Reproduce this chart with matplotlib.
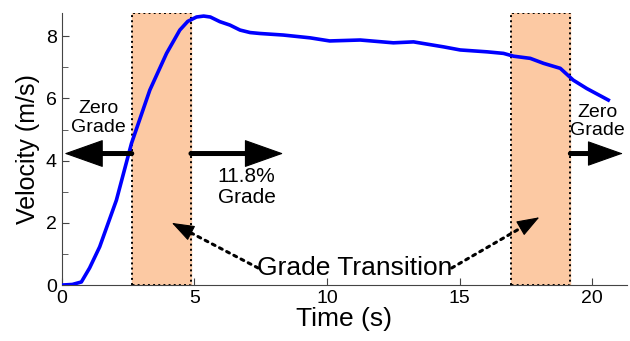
import matplotlib.pyplot as plt
import numpy as np
from matplotlib.ticker import MultipleLocator

plt.rcParams['font.family'] = ['Liberation Sans', 'DejaVu Sans']

# velocity trace
time_s = [0.0, 0.4, 0.74, 1.05, 1.43, 2.06, 2.63, 3.32, 3.95, 4.45, 4.75, 5.08, 5.35, 5.6,
          5.96, 6.34, 6.72, 7.1, 7.47, 8.35, 9.36, 10.1, 11.25, 12.5, 13.26, 14.39,
          15.02, 16.03, 16.65, 17.03, 17.66, 18.16, 18.79, 19.28, 19.79, 20.6]
velocity = [0.0, 0.02, 0.1, 0.55, 1.23, 2.73, 4.56, 6.27, 7.45, 8.2, 8.48, 8.62, 8.65, 8.62,
            8.47, 8.36, 8.2, 8.12, 8.09, 8.04, 7.95, 7.85, 7.88, 7.79, 7.82, 7.66,
            7.56, 7.5, 7.45, 7.36, 7.29, 7.13, 6.97, 6.59, 6.32, 5.95]

transitions = [(2.64, 4.87), (16.95, 19.17)]

fig = plt.figure(figsize=(6.30, 3.41), dpi=100)
ax = fig.add_axes([0.098, 0.164, 0.897, 0.798])

ymax = 8.75
for a, b in transitions:
    ax.fill_between([a, b], 0, ymax, color='#fcc9a3', zorder=1)
    ax.plot([a, a, b, b, a], [0, ymax, ymax, 0, 0], color='black', ls=':', lw=1.4, zorder=2)

ax.plot(time_s, velocity, color='#0000ff', lw=2.6, zorder=3)


def arrow(x0, y0, x1, y1, lw, ls, hl, hw, ms):
    # shaft and solid head drawn separately so the head keeps its size
    ax.annotate('', xy=(x1, y1), xytext=(x0, y0),
                arrowprops=dict(arrowstyle='-', color='black', lw=lw, ls=ls,
                                shrinkA=0, shrinkB=ms * hl * 0.6), zorder=4)
    f = 0.05
    ax.annotate('', xy=(x1, y1), xytext=(x1 - f * (x1 - x0), y1 - f * (y1 - y0)),
                arrowprops=dict(arrowstyle='-|>,head_length=%g,head_width=%g' % (hl, hw),
                                color='black', lw=0.8, mutation_scale=ms,
                                shrinkA=0, shrinkB=0), zorder=4)


y_arr = 4.23
arrow(transitions[0][0], y_arr, 0.1, y_arr, 3.6, '-', 0.62, 0.22, 42)
arrow(transitions[0][1], y_arr, 8.35, y_arr, 3.6, '-', 0.62, 0.22, 42)
arrow(transitions[1][1], y_arr, 21.15, y_arr, 3.6, '-', 0.62, 0.22, 38)

ax.text(1.37, 5.37, 'Zero\nGrade', ha='center', va='center', fontsize=14, linespacing=1.1)
ax.text(6.97, 3.15, '11.8%\nGrade', ha='center', va='center', fontsize=15, linespacing=1.1)
ax.text(20.2, 5.25, 'Zero\nGrade', ha='center', va='center', fontsize=14, linespacing=1.1)

ax.text(11.05, 0.55, 'Grade Transition', ha='center', va='center', fontsize=19)
arrow(7.4, 0.55, 4.15, 2.0, 2.2, ':', 0.72, 0.26, 20)
arrow(14.7, 0.55, 18.0, 2.18, 2.2, ':', 0.72, 0.26, 20)

ax.set_xlim(0, 21.3)
ax.set_ylim(0, ymax)
ax.xaxis.set_major_locator(MultipleLocator(5))
ax.yaxis.set_major_locator(MultipleLocator(2))
ax.yaxis.set_minor_locator(MultipleLocator(1))
ax.tick_params(which='both', direction='in', labelsize=14, color='#444444')
ax.tick_params(which='major', length=5)
ax.tick_params(which='minor', length=4)
ax.spines['top'].set_visible(False)
ax.spines['right'].set_visible(False)
for s in ('left', 'bottom'):
    ax.spines[s].set_color('#444444')
ax.set_xlabel('Time (s)', fontsize=19, labelpad=0)
ax.set_ylabel('Velocity (m/s)', fontsize=18, labelpad=4)

fig.savefig('out.png', dpi=100)
